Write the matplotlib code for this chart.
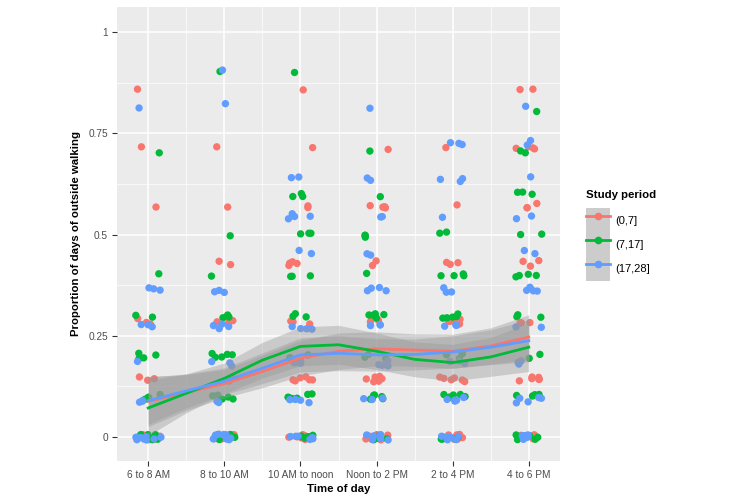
import numpy as np
import matplotlib
matplotlib.use("Agg")
from matplotlib import pyplot as plt
from matplotlib.lines import Line2D
from matplotlib.patches import Patch
from matplotlib.legend_handler import HandlerTuple

plt.rcParams['font.family'] = ['Liberation Sans', 'DejaVu Sans']

# time slots on the x axis
slots = ["6 to 8 AM", "8 to 10 AM", "10 AM to noon", "Noon to 2 PM", "2 to 4 PM", "4 to 6 PM"]
groups = ["(0,7]", "(7,17]", "(17,28]"]

# proportion values per participant, one list per time slot
red_vals = [
	[.857, .714, .571, .286, .286, .286, .143, .143, .143] + [0] * 8,
	[.714, .571, .429, .429, .286, .286, .286, .286, .143, .143] + [0] * 8,
	[.857, .714, .571, .571, .429, .429, .429, .429, .286, .286, .286] + [.143] * 6 + [0] * 8,
	[.714] + [.571] * 5 + [.429, .429, .286, .286, .286] + [.143] * 6 + [0] * 8,
	[.714, .571, .429, .429, .429] + [.286] * 6 + [.143] * 6 + [0] * 8,
	[.857, .857, .714, .714, .714, .714, .571, .571, .571, .429, .429, .429, .286, .286, .286] + [.143] * 6 + [0] * 8,
]
green_vals = [
	[.7, .4, .3, .3, .2, .2, .2, .2, .1, .1, .1, .1] + [0] * 8,
	[.9, .5, .4, .3, .3, .3] + [.2] * 5 + [.1] * 6 + [0] * 6,
	[.9, .6, .6, .6, .5, .5, .5, .4, .4, .4, .3, .3, .3, .2, .2, .2] + [.1] * 6 + [0] * 6,
	[.7, .6, .5, .5, .5, .4] + [.3] * 5 + [.2, .2, .2] + [.1] * 6 + [0] * 6,
	[.5, .5, .4, .4, .4, .4] + [.3] * 5 + [.2] * 4 + [.1] * 6 + [0] * 6,
	[.8, .7, .7, .6, .6, .6, .5, .5, .4, .4, .4, .4, .3, .3, .3, .2, .2, .1, .1, .1, .1] + [0] * 6,
]
blue_vals = [
	[.818, .364, .364, .364, .273, .273, .273, .182, .091, .091, .091] + [0] * 8,
	[.909, .818, .364, .364, .364, .273, .273, .273, .273, .182, .182, .182, .091, .091] + [0] * 8,
	[.636, .636] + [.545] * 5 + [.455, .455] + [.273] * 4 + [.182] * 4 + [.091] * 4 + [0] * 6,
	[.818, .636, .636, .545, .545, .455, .455] + [.364] * 4 + [.273] * 3 + [.182] * 4 + [.091] * 3 + [0] * 6,
	[.727, .727, .727, .636, .636, .636, .545, .364, .364, .364, .273, .273, .273, .182, .182, .182] + [.091] * 5 + [0] * 6,
	[.818, .727, .727, .636, .545, .545, .455, .455] + [.364] * 5 + [.273, .273, .182, .182, .182] + [.091] * 5 + [0] * 6,
]

# smoothed trend and its standard error band
smooth_x = [1, 1.5, 2, 2.5, 3, 3.5, 4, 4.5, 5, 5.5, 6]
red_fit = [0.088, 0.110, 0.132, 0.162, 0.195, 0.212, 0.218, 0.215, 0.212, 0.225, 0.247]
green_fit = [0.072, 0.108, 0.145, 0.190, 0.224, 0.228, 0.212, 0.192, 0.184, 0.198, 0.222]
blue_fit = [0.090, 0.114, 0.138, 0.170, 0.203, 0.207, 0.203, 0.204, 0.210, 0.222, 0.238]
red_se = [0.062, 0.044, 0.035, 0.040, 0.044, 0.045, 0.042, 0.040, 0.042, 0.045, 0.055]
green_se = [0.068, 0.048, 0.038, 0.044, 0.048, 0.048, 0.045, 0.043, 0.045, 0.048, 0.060]
blue_se = [0.058, 0.042, 0.033, 0.038, 0.042, 0.043, 0.040, 0.038, 0.040, 0.043, 0.052]

colors = ["#F8766D", "#00BA38", "#619CFF"]

fig = plt.figure(figsize=(7.33, 5), dpi=100)
ax = fig.add_axes([117 / 733, 39 / 500, 443 / 733, 454 / 500])
ax.set_facecolor("#EBEBEB")

rng = np.random.default_rng(3)  # jitter only
for vals, col in zip([red_vals, green_vals, blue_vals], colors):
	for i, v in enumerate(vals):
		v = np.array(v, dtype=float)
		xj = i + 1 + rng.uniform(-0.17, 0.17, len(v))
		yj = v + rng.uniform(-0.007, 0.007, len(v))
		ax.scatter(xj, yj, s=28, color=col, edgecolors="none", zorder=3)

for fit, se, col in zip([red_fit, green_fit, blue_fit], [red_se, green_se, blue_se], colors):
	fit = np.array(fit)
	se = np.array(se)
	ax.fill_between(smooth_x, fit - se, fit + se, color="#999999", alpha=0.4, linewidth=0, zorder=4)
for fit, col in zip([red_fit, green_fit, blue_fit], colors):
	ax.plot(smooth_x, fit, color=col, linewidth=2.0, zorder=5)

ax.set_xlim(0.59, 6.41)
ax.set_ylim(-0.059, 1.062)
ax.set_xticks(range(1, 7))
ax.set_xticklabels(slots)
ax.set_xticks([1.5, 2.5, 3.5, 4.5, 5.5], minor=True)
ax.set_yticks([0, 0.25, 0.5, 0.75, 1])
ax.set_yticklabels(["0", "0.25", "0.5", "0.75", "1"])
ax.set_yticks([0.125, 0.375, 0.625, 0.875], minor=True)
ax.grid(which="major", color="white", linewidth=1.1, zorder=0)
ax.grid(which="minor", color="white", linewidth=0.5, zorder=0)
ax.set_axisbelow(True)
for s in ax.spines.values():
	s.set_visible(False)
ax.tick_params(which="major", length=3.5, width=0.8, color="#333333", labelcolor="#4D4D4D", labelsize=7.3, pad=3)
ax.tick_params(which="minor", length=0)

ax.set_xlabel("Time of day", fontsize=8.2, fontweight="bold", labelpad=3)
ax.set_ylabel("Proportion of days of outside walking", fontsize=8.2, fontweight="bold", labelpad=5)

handles = [(Patch(facecolor="#CCCCCC", edgecolor="none"),
	Line2D([], [], color=c, linewidth=2.0, marker="o", markersize=4.5)) for c in colors]
leg = fig.legend(handles, groups, title="Study period", loc="upper left",
	bbox_to_anchor=(577 / 733, 1 - 181 / 500), frameon=False, fontsize=8,
	handler_map={tuple: HandlerTuple(ndivide=1, pad=0)},
	handlelength=2.16, handleheight=2.97, labelspacing=0, handletextpad=0.45, borderpad=0.3)
leg.get_title().set_fontweight("bold")
leg.get_title().set_fontsize(8.2)
leg._legend_box.align = "left"
leg._legend_box.sep = 6

fig.savefig("out.png", dpi=100)
